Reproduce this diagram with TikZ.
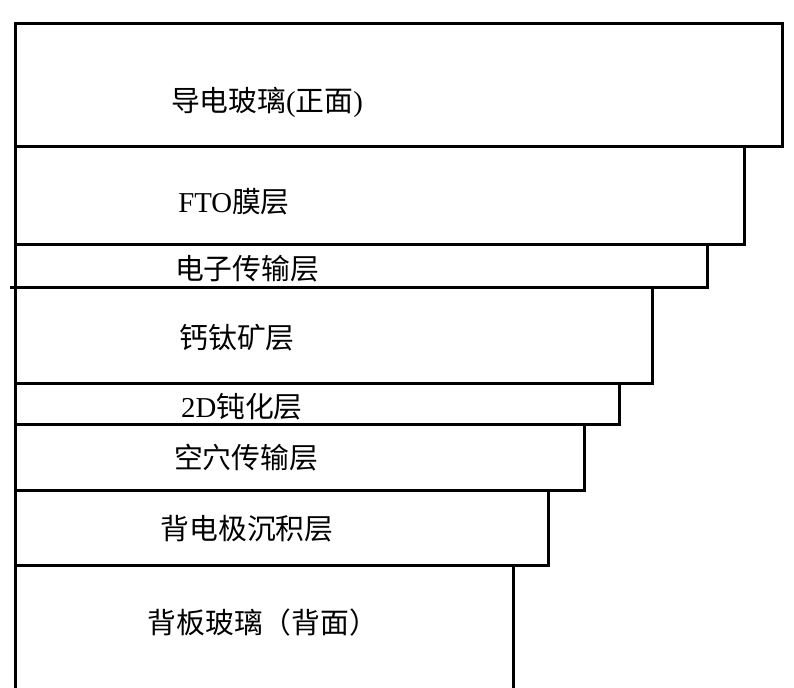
\documentclass[tikz,border=0pt]{standalone}
\usepackage{fontspec}
\setmainfont{Liberation Serif}
\newfontfamily\cjk{Noto Sans CJK SC}
\newfontfamily\lat{Liberation Serif}
\begin{document}
\begin{tikzpicture}[x=0.75pt,y=-0.75pt,
  edge/.style={line width=2.25pt, line cap=rect},
  lbl/.style={font=\cjk\fontsize{21.6}{25}\selectfont, inner sep=0pt, anchor=base}]
\useasboundingbox (0,0) rectangle (794,687);
\begin{scope}
\clip (0,0) rectangle (794,687);
% outer left edge and top
\draw[edge] (15,700) -- (15,23) -- (782,23);
% layer 1
\draw[edge] (782,23) -- (782,146) -- (15,146);
% layer 2
\draw[edge] (744,146) -- (744,244.5) -- (15,244.5);
% layer 3
\draw[edge] (707,244.5) -- (707,287.5) -- (11,287.5);
% layer 4
\draw[edge] (652,287.5) -- (652,383) -- (15,383);
% layer 5
\draw[edge] (619,383) -- (619,424.7) -- (15,424.7);
% layer 6
\draw[edge] (584,424.7) -- (584,490.7) -- (15,490.7);
% layer 7
\draw[edge] (548,490.7) -- (548,565) -- (15,565);
% layer 8
\draw[edge] (513,565) -- (513,700);
\end{scope}
\node[lbl] (t1) at (267,111.5) {导电玻璃{\lat(}正面{\lat)}};
\node[lbl] (t2) at (234,212) {{\lat FTO}膜层};
\node[lbl] (t3) at (247,279) {电子传输层};
\node[lbl] (t4) at (237,348) {钙钛矿层};
\node[lbl] (t5) at (242,417) {{\lat 2D}钝化层};
\node[lbl] (t6) at (246,468) {空穴传输层};
\node[lbl] (t7) at (247,539) {背电极沉积层};
\node[lbl] (t8) at (263,633) {背板玻璃（背面）};
\end{tikzpicture}
\end{document}
